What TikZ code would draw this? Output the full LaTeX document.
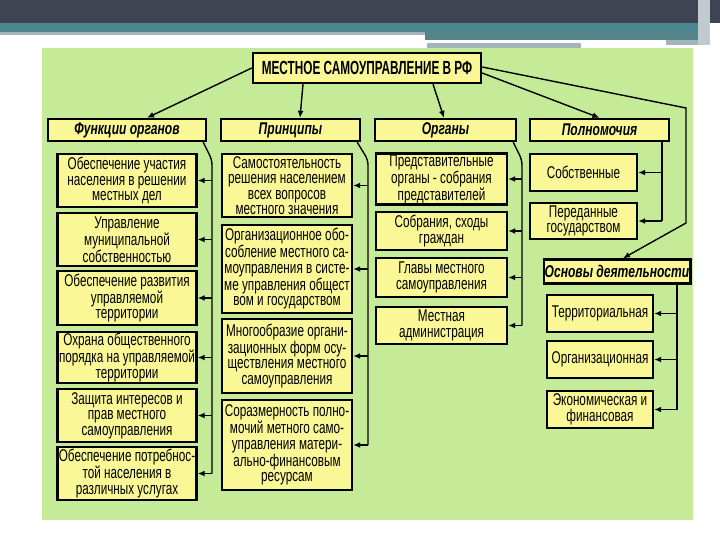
\documentclass[tikz,border=0pt]{standalone}
\usepackage{fontspec}
\setmainfont{Liberation Sans}
\newfontfamily\bodyfont[FakeStretch=0.69]{Liberation Sans}
\newfontfamily\headfont[FakeStretch=0.71]{Liberation Sans}
\newfontfamily\titlefont[FakeStretch=0.62]{Liberation Sans}
\usetikzlibrary{arrows.meta}
\definecolor{panelgreen}{RGB}{198,235,152}
\definecolor{boxfill}{RGB}{250,248,150}
\definecolor{bardark}{RGB}{63,68,83}
\definecolor{barteal}{RGB}{74,134,142}
\definecolor{bargray}{RGB}{165,180,187}
\begin{document}
\begin{tikzpicture}[x=1pt, y=-1pt,
    box/.style={draw, line width=2.4pt, fill=boxfill, align=center, inner sep=1pt,
        font=\bodyfont\fontsize{17pt}{15.5pt}\selectfont},
    head/.style={box, font=\headfont\bfseries\itshape\fontsize{17pt}{17pt}\selectfont},
    wire/.style={line width=1.4pt},
    arr/.style={wire, -{Latex[length=7pt,width=6pt]}}]
        \useasboundingbox (0,0) rectangle (720,540);
        \fill [white] (0,0) rectangle (720,540);
        \fill [bardark] (0,0) rectangle (720,23);
        \fill [barteal] (0,23) rectangle (700,32);
        \fill [bargray] (0,32) rectangle (425,35);
        \fill [barteal!80!gray] (425,32) rectangle (700,40);
        \fill [white] (427,40) rectangle (666,43);
        \fill [bargray] (427,43) rectangle (581,48);
        \fill [bargray] (666,40) rectangle (700,45);
        \fill [bargray!70!white] (698,0) rectangle (710,45);
        \fill [panelgreen] (42,48) rectangle (693,520);
        \node [box, minimum width=228pt, minimum height=30pt, font=\titlefont\bfseries\fontsize{19pt}{19pt}\selectfont] (main) at (367,68) {МЕСТНОЕ САМОУПРАВЛЕНИЕ В РФ};
        \node [head, minimum width=158pt, minimum height=22pt] (hF) at (127,130) {Функции органов};
        \node [head, minimum width=139pt, minimum height=22pt] (hP) at (290.5,130) {Принципы};
        \node [head, minimum width=141pt, minimum height=22pt] (hO) at (445.5,130) {Органы};
        \node [head, minimum width=139pt, minimum height=22pt] (hN) at (599.5,130) {Полномочия};
        \node [box, minimum width=139pt, minimum height=53pt] (f1) at (127,180.5) {Обеспечение участия\\населения в решении\\местных дел};
        \node [box, minimum width=139pt, minimum height=53pt] (f2) at (127,239.5) {Управление\\муниципальной\\собственностью};
        \node [box, minimum width=139pt, minimum height=54pt] (f3) at (127,298) {Обеспечение развития\\управляемой\\территории};
        \node [box, minimum width=139pt, minimum height=51pt] (f4) at (127,357.5) {Охрана общественного\\порядка на управляемой\\территории};
        \node [box, minimum width=139pt, minimum height=53pt] (f5) at (127,415.5) {Защита интересов и\\прав местного\\самоуправления};
        \node [box, minimum width=139pt, minimum height=53pt] (f6) at (127,473.5) {Обеспечение потребнос-\\той населения в\\различных услугах};
        \node [box, minimum width=130pt, minimum height=63pt] (p1) at (287,185.5) {Самостоятельность\\решения населением\\всех вопросов\\местного значения};
        \node [box, minimum width=130pt, minimum height=88pt] (p2) at (287,269) {Организационное обо-\\собление местного са-\\моуправления в систе-\\ме управления общест\\вом и государством};
        \node [box, minimum width=130pt, minimum height=74pt] (p3) at (287,356) {Многообразие органи-\\зационных форм осу-\\ществления местного\\самоуправления};
        \node [box, minimum width=130pt, minimum height=90pt] (p4) at (287,445) {Соразмерность полно-\\мочий метного само-\\управления матери-\\ально-финансовым\\ресурсам};
        \node [box, minimum width=131pt, minimum height=50pt] (o1) at (441.5,179) {Представительные\\органы - собрания\\представителей};
        \node [box, minimum width=131pt, minimum height=38pt] (o2) at (441.5,231) {Собрания, сходы\\граждан};
        \node [box, minimum width=131pt, minimum height=39pt] (o3) at (441.5,277.5) {Главы местного\\самоуправления};
        \node [box, minimum width=131pt, minimum height=37pt] (o4) at (441.5,325.5) {Местная\\администрация};
        \node [box, minimum width=107pt, minimum height=37pt] (n1) at (583.5,172.5) {Собственные};
        \node [box, minimum width=107pt, minimum height=36pt] (n2) at (583.5,221) {Переданные\\государством};
        \node [head, minimum width=140pt, minimum height=24pt] (osn) at (617,271.5) {Основы деятельности};
        \node [box, minimum width=106pt, minimum height=37pt] (b1) at (600,313.5) {Территориальная};
        \node [box, minimum width=106pt, minimum height=37pt] (b2) at (600,359.5) {Организационная};
        \node [box, minimum width=106pt, minimum height=37pt] (b3) at (600,409.5) {Экономическая и\\финансовая};
        \coordinate (bF) at (212,160);
        \coordinate (bP) at (368,160);
        \coordinate (bO) at (522,160);
        \coordinate (bN) at (662,141);
        \coordinate (bB) at (677,284);
        \coordinate (k1) at (686,108);
        \coordinate (k2) at (686,223);
        \draw [arr] (main.west) -- ([xshift=20pt]hF.north);
        \draw [arr] ([xshift=-64pt]main.south) -- ([xshift=9.5pt]hP.north);
        \draw [arr] ([xshift=66pt]main.south) -- ([xshift=-1.5pt]hO.north);
        \draw [arr] ([yshift=-5pt]main.east) -- (hN.north);
        \draw [arr] ([yshift=1pt]main.east) -- (k1) -- (k2) -- ([xshift=6pt]osn.north);
        \draw [wire, rounded corners=5pt] ([xshift=-4pt]hF.south east) -- (bF) -- (bF |- f6.east);
        \draw [wire, rounded corners=5pt] ([xshift=-4pt]hP.south east) -- (bP) -- (bP |- p4.east);
        \draw [wire, rounded corners=5pt] ([xshift=-4pt]hO.south east) -- (bO) -- (bO |- o4.east);
        \draw [wire] (bN) -- (bN |- n2.east);
        \draw [wire] (bB) -- (bB |- b3.east);
        \foreach \n in {f1,f2,f3,f4,f5,f6} \draw [arr] (bF |- \n.east) -- (\n.east);
        \foreach \n in {p1,p2,p3,p4} \draw [arr] (bP |- \n.east) -- (\n.east);
        \foreach \n in {o1,o2,o3,o4} \draw [arr] (bO |- \n.east) -- (\n.east);
        \foreach \n in {n1,n2} \draw [arr] (bN |- \n.east) -- (\n.east);
        \foreach \n in {b1,b2,b3} \draw [arr] (bB |- \n.east) -- (\n.east);
    \end{tikzpicture}
\end{document}
